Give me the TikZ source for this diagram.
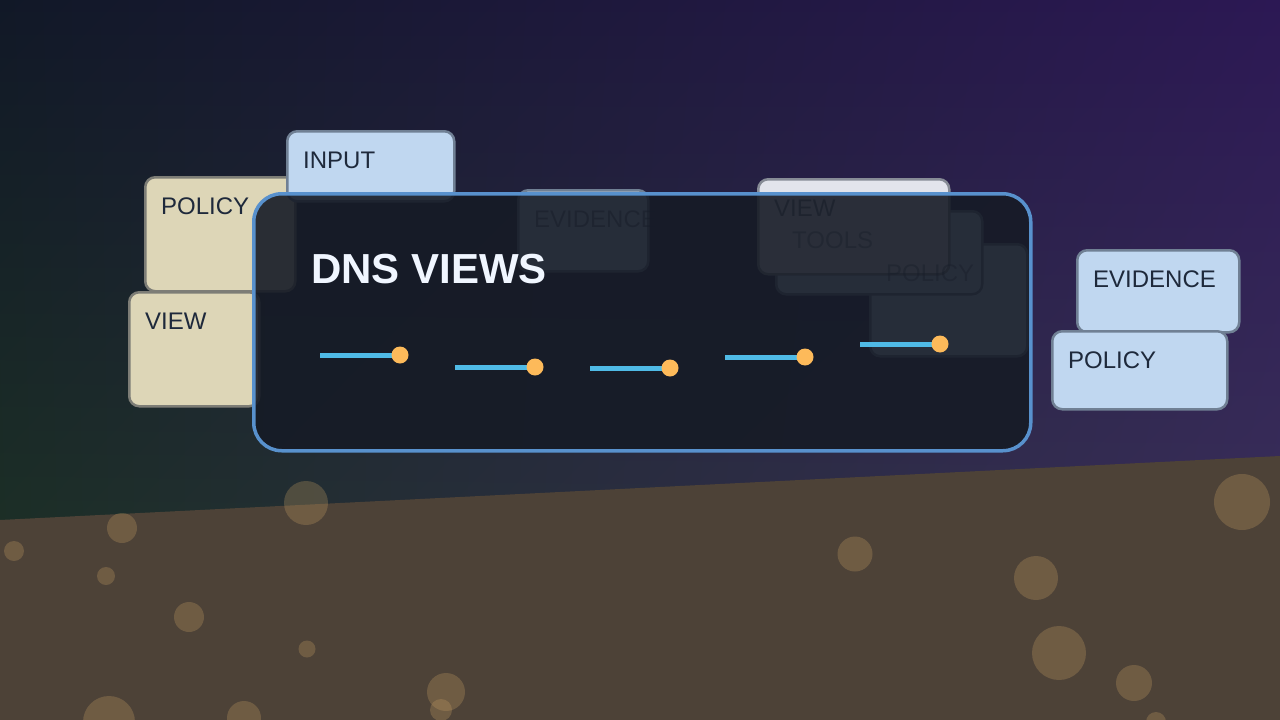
\documentclass[tikz,border=0pt]{standalone}
\usepackage{fontspec}
\setmainfont{Liberation Sans}
\usepackage{tikz}
\usetikzlibrary{shadings}
\definecolor{skyTL}{RGB}{17,24,39}
\definecolor{skyTR}{RGB}{44,24,84}
\definecolor{skyBL}{RGB}{32,55,38}
\definecolor{skyBR}{RGB}{61,54,90}
\definecolor{groundC}{RGB}{77,66,55}
\definecolor{bubbleC}{RGB}{200,160,100}
\definecolor{beigeF}{RGB}{221,214,183}
\definecolor{beigeB}{RGB}{125,125,118}
\definecolor{blueF}{RGB}{192,215,240}
\definecolor{blueB}{RGB}{112,128,148}
\definecolor{greyF}{RGB}{226,228,236}
\definecolor{greyB}{RGB}{135,140,150}
\definecolor{cardInk}{RGB}{30,41,59}
\definecolor{panelF}{RGB}{22,27,38}
\definecolor{panelB}{RGB}{88,145,205}
\definecolor{linkC}{RGB}{79,186,230}
\definecolor{dotC}{RGB}{253,186,90}
\definecolor{titleC}{RGB}{240,246,255}

\begin{document}
\begin{tikzpicture}[
  x=1pt, y=-1pt,
  card/.style={rectangle,rounded corners=10pt,line width=2.5pt,inner sep=0pt,anchor=north west},
  cardlabel/.style={inner sep=0pt,anchor=base west,text=cardInk,font=\fontsize{24}{28}\selectfont},
  panel/.style={rectangle,rounded corners=28pt,line width=3.5pt,draw=panelB,fill=panelF,
    fill opacity=0.9,inner sep=0pt,anchor=north west},
  link/.style={linkC,line width=5pt},
  dot/.style={circle,fill=dotC,inner sep=0pt,minimum size=17pt},
  bubble/.style={bubbleC,opacity=0.28}
]
\useasboundingbox (0,0) rectangle (1280,720);
\clip (0,0) rectangle (1280,720);
%% ─── Backdrop ───────────────────────────────────────────────────────────────
\shade[upper left=skyTL,upper right=skyTR,lower left=skyBL,lower right=skyBR]
  (0,0) rectangle (1280,720);
\fill[groundC] (0,520) -- (1280,456) -- (1280,720) -- (0,720) -- cycle;
\foreach \x/\y/\r in {306/503/22, 122/528/15, 14/551/10, 106/576/9, 189/617/15,
  307/649/8.5, 446/692/19, 441/710/11, 109/722/26, 244/718/17, 1242/502/28,
  855/554/17.5, 1036/578/22, 1059/653/27, 1134/683/18, 1156/722/10}
  \fill[bubble] (\x,\y) circle (\r pt);
%% ─── Cards ──────────────────────────────────────────────────────────────────
\foreach \nm/\x/\y/\w/\h/\fc/\bc in {
    polL/144/176/150/114/beigeF/beigeB,
    viewL/128/291/130/114/beigeF/beigeB,
    input/286/130/167/70/blueF/blueB,
    evidM/517/189/130/81/blueF/blueB,
    polM/869/243/157/112/blueF/blueB,
    tools/775/210/206/83/blueF/blueB,
    viewM/757/178/191/95/greyF/greyB,
    evidR/1076/249/162/82/blueF/blueB,
    polR/1051/330/175/78/blueF/blueB}
  \node[card,fill=\fc,draw=\bc,minimum width=\w pt,minimum height=\h pt] (\nm) at (\x,\y) {};
\foreach \nm/\txt/\op in {polL/POLICY/1, viewL/VIEW/1, input/INPUT/1, evidM/EVIDENCE/0.5,
    polM/POLICY/0.4, tools/TOOLS/0.4, viewM/VIEW/0.6, evidR/EVIDENCE/1, polR/POLICY/1}
  \node[cardlabel,text opacity=\op] (\nm-t) at ([shift={(17,38)}]\nm.north west) {\txt};
%% ─── Panel ──────────────────────────────────────────────────────────────────
\node[panel,minimum width=777pt,minimum height=257pt] (dns) at (252,192) {};
\node[inner sep=0pt,anchor=base west,text=titleC,font=\fontsize{42}{50}\selectfont\bfseries]
  (ttl) at (311,283) {DNS VIEWS};
\foreach \i/\x/\y in {1/320/355, 2/455/367, 3/590/368, 4/725/357, 5/860/344} {
  \coordinate (s\i) at (\x,\y);
  \coordinate (e\i) at (\x+80,\y);
  \draw[link] (s\i) -- (e\i);
  \node[dot] (d\i) at (e\i) {};
}
\end{tikzpicture}
\end{document}
